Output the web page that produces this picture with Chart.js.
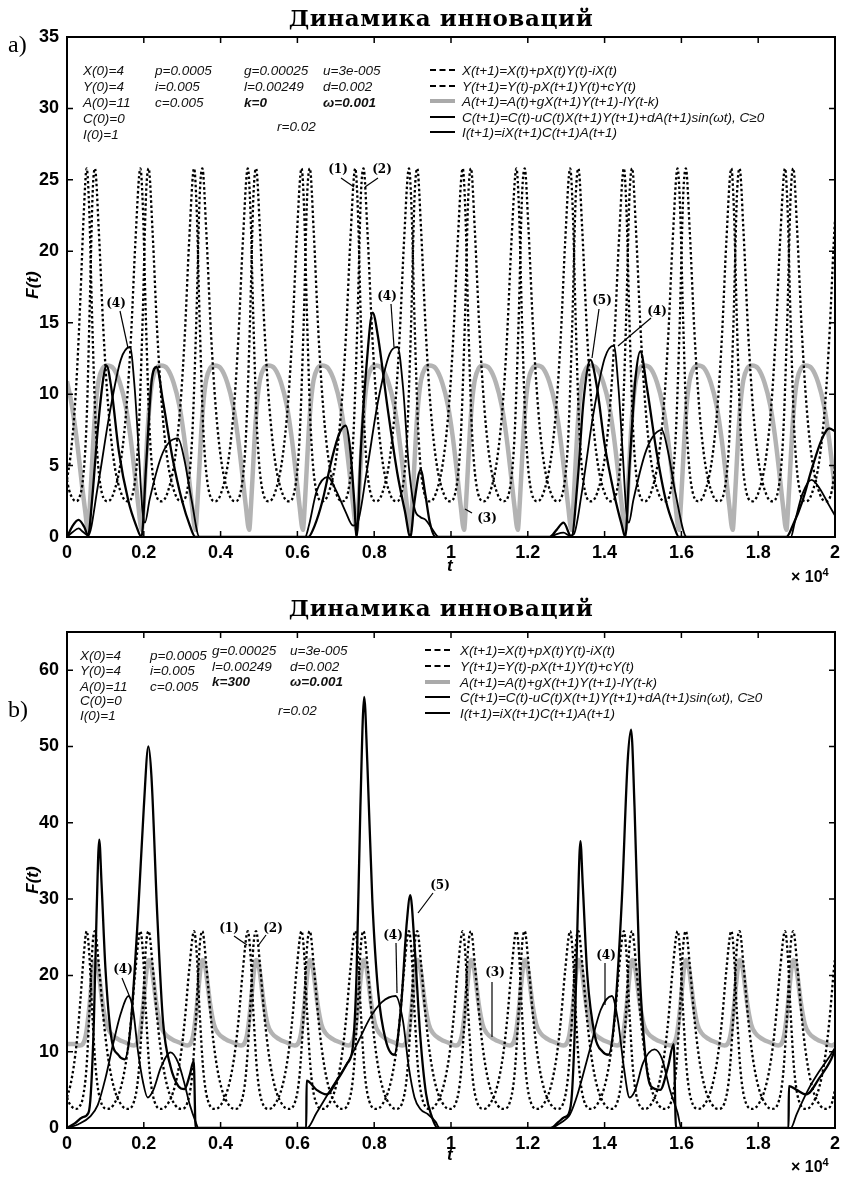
<!DOCTYPE html>
<html><head><meta charset="utf-8">
<script src="https://cdn.jsdelivr.net/npm/chart.js@4.4.1/dist/chart.umd.min.js"></script>
<style>
body{margin:0;background:#fff;}
#wrap{position:relative;width:845px;height:1178px;overflow:hidden;background:#fff;}
canvas{position:absolute;left:0;}
.p{position:absolute;white-space:nowrap;font-family:'Liberation Sans',Arial,sans-serif;font-style:italic;font-size:13.5px;color:#111;line-height:15px;transform:translateY(-50%);}
.b{font-weight:bold;}
.ttl{position:absolute;white-space:nowrap;font-family:'DejaVu Serif',serif;font-weight:bold;font-size:23px;color:#000;transform:translate(-50%,-50%);letter-spacing:0.6px;}
.lab{position:absolute;font-family:'Liberation Serif',serif;font-size:24px;color:#000;transform:translateY(-50%);}
.n{position:absolute;font-family:'DejaVu Serif',serif;font-weight:bold;font-size:12px;color:#000;transform:translate(-50%,-50%);white-space:nowrap;}
.ax{position:absolute;font-family:'Liberation Sans',Arial,sans-serif;font-style:italic;font-weight:bold;font-size:17px;color:#000;white-space:nowrap;}
.ex{position:absolute;font-family:'Liberation Sans',Arial,sans-serif;font-weight:bold;font-size:16px;color:#000;white-space:nowrap;transform:translateY(-50%);}
.ls{position:absolute;width:25px;height:0;}
.dot{border-top:2px dashed #000;}
.gry{border-top:4px solid #aaa;}
.blk{border-top:2.5px solid #000;}
</style></head><body><div id="wrap">
<canvas id="ca" width="845" height="590" style="top:0"></canvas>
<canvas id="cb" width="845" height="588" style="top:590px"></canvas>
<svg id="ov" width="845" height="1178" style="position:absolute;left:0;top:0"></svg>
</div>
<script>
// ---------- shared X, Y (identical in both panels) ----------
const tX = [0,54,145,236,327,418,509,600,668,
727,827,947,1077,1227,1427,1577,1727,1857,1967,2057,
2126,2226,2346,2476,2626,2826,2976,3126,3256,3366,3456,
3525,3625,3745,3875,4025,4225,4375,4525,4655,4765,4855,
4924,5024,5144,5274,5424,5624,5774,5924,6054,6164,6254,
6323,6423,6543,6673,6823,7023,7173,7323,7453,7563,7653,
7722,7822,7942,8072,8222,8422,8572,8722,8852,8962,9052,
9121,9221,9341,9471,9621,9821,9971,10121,10251,10361,10451,
10520,10620,10740,10870,11020,11220,11370,11520,11650,11760,11850,
11919,12019,12139,12269,12419,12619,12769,12919,13049,13159,13249,
13318,13418,13538,13668,13818,14018,14168,14318,14448,14558,14648,
14717,14817,14937,15067,15217,15417,15567,15717,15847,15957,16047,
16116,16216,16336,16466,16616,16816,16966,17116,17246,17356,17446,
17515,17615,17735,17865,18015,18215,18365,18515,18645,18755,18845,
18914,19014,19134,19264,19414,19614,19764,19914,20000];
const X = [4.0,3.3,2.7,2.5,2.8,4.1,8.0,17.0,24.1,
25.8,21.5,14.5,9.0,5.2,2.95,2.5,3.2,6.8,15.0,23.9,
25.8,21.5,14.5,9.0,5.2,2.95,2.5,3.2,6.8,15.0,23.9,
25.8,21.5,14.5,9.0,5.2,2.95,2.5,3.2,6.8,15.0,23.9,
25.8,21.5,14.5,9.0,5.2,2.95,2.5,3.2,6.8,15.0,23.9,
25.8,21.5,14.5,9.0,5.2,2.95,2.5,3.2,6.8,15.0,23.9,
25.8,21.5,14.5,9.0,5.2,2.95,2.5,3.2,6.8,15.0,23.9,
25.8,21.5,14.5,9.0,5.2,2.95,2.5,3.2,6.8,15.0,23.9,
25.8,21.5,14.5,9.0,5.2,2.95,2.5,3.2,6.8,15.0,23.9,
25.8,21.5,14.5,9.0,5.2,2.95,2.5,3.2,6.8,15.0,23.9,
25.8,21.5,14.5,9.0,5.2,2.95,2.5,3.2,6.8,15.0,23.9,
25.8,21.5,14.5,9.0,5.2,2.95,2.5,3.2,6.8,15.0,23.9,
25.8,21.5,14.5,9.0,5.2,2.95,2.5,3.2,6.8,15.0,23.9,
25.8,21.5,14.5,9.0,5.2,2.95,2.5,3.2,6.8,15.0,23.9,
25.8,21.5,14.5,9.0,5.2,2.95,2.5,3.2,5.0];

const tY = [0,88,175,263,350,438,
512,582,652,752,912,1062,1212,1412,1562,1672,1782,
1911,1981,2051,2151,2311,2461,2611,2811,2961,3071,3181,
3310,3380,3450,3550,3710,3860,4010,4210,4360,4470,4580,
4709,4779,4849,4949,5109,5259,5409,5609,5759,5869,5979,
6108,6178,6248,6348,6508,6658,6808,7008,7158,7268,7378,
7507,7577,7647,7747,7907,8057,8207,8407,8557,8667,8777,
8906,8976,9046,9146,9306,9456,9606,9806,9956,10066,10176,
10305,10375,10445,10545,10705,10855,11005,11205,11355,11465,11575,
11704,11774,11844,11944,12104,12254,12404,12604,12754,12864,12974,
13103,13173,13243,13343,13503,13653,13803,14003,14153,14263,14373,
14502,14572,14642,14742,14902,15052,15202,15402,15552,15662,15772,
15901,15971,16041,16141,16301,16451,16601,16801,16951,17061,17171,
17300,17370,17440,17540,17700,17850,18000,18200,18350,18460,18570,
18699,18769,18839,18939,19099,19249,19399,19599,19749,19859,19969,20000];
const Y = [4.0,5.6,8.05,11.7,16.8,22.75,
25.8,22.7,15.6,7.5,3.05,2.5,3.05,5.5,9.5,14.3,20.7,
25.8,22.7,15.6,7.5,3.05,2.5,3.05,5.5,9.5,14.3,20.7,
25.8,22.7,15.6,7.5,3.05,2.5,3.05,5.5,9.5,14.3,20.7,
25.8,22.7,15.6,7.5,3.05,2.5,3.05,5.5,9.5,14.3,20.7,
25.8,22.7,15.6,7.5,3.05,2.5,3.05,5.5,9.5,14.3,20.7,
25.8,22.7,15.6,7.5,3.05,2.5,3.05,5.5,9.5,14.3,20.7,
25.8,22.7,15.6,7.5,3.05,2.5,3.05,5.5,9.5,14.3,20.7,
25.8,22.7,15.6,7.5,3.05,2.5,3.05,5.5,9.5,14.3,20.7,
25.8,22.7,15.6,7.5,3.05,2.5,3.05,5.5,9.5,14.3,20.7,
25.8,22.7,15.6,7.5,3.05,2.5,3.05,5.5,9.5,14.3,20.7,
25.8,22.7,15.6,7.5,3.05,2.5,3.05,5.5,9.5,14.3,20.7,
25.8,22.7,15.6,7.5,3.05,2.5,3.05,5.5,9.5,14.3,20.7,
25.8,22.7,15.6,7.5,3.05,2.5,3.05,5.5,9.5,14.3,20.7,
25.8,22.7,15.6,7.5,3.05,2.5,3.05,5.5,9.5,14.3,20.7,22.2];

// ---------- panel a (k = 0) ----------
const tAa = [0,100,200,300,400,470,
547,597,647,697,757,827,927,1047,1207,1377,1527,1647,1767,1857,
1946,1996,2046,2096,2156,2226,2326,2446,2606,2776,2926,3046,3166,3256,
3345,3395,3445,3495,3555,3625,3725,3845,4005,4175,4325,4445,4565,4655,
4744,4794,4844,4894,4954,5024,5124,5244,5404,5574,5724,5844,5964,6054,
6143,6193,6243,6293,6353,6423,6523,6643,6803,6973,7123,7243,7363,7453,
7542,7592,7642,7692,7752,7822,7922,8042,8202,8372,8522,8642,8762,8852,
8941,8991,9041,9091,9151,9221,9321,9441,9601,9771,9921,10041,10161,10251,
10340,10390,10440,10490,10550,10620,10720,10840,11000,11170,11320,11440,11560,11650,
11739,11789,11839,11889,11949,12019,12119,12239,12399,12569,12719,12839,12959,13049,
13138,13188,13238,13288,13348,13418,13518,13638,13798,13968,14118,14238,14358,14448,
14537,14587,14637,14687,14747,14817,14917,15037,15197,15367,15517,15637,15757,15847,
15936,15986,16036,16086,16146,16216,16316,16436,16596,16766,16916,17036,17156,17246,
17335,17385,17435,17485,17545,17615,17715,17835,17995,18165,18315,18435,18555,18645,
18734,18784,18834,18884,18944,19014,19114,19234,19394,19564,19714,19834,19954,20000];
const Aa = [10.9,9.6,7.9,5.8,3.4,1.9,
0.5,2.3,4.8,7.3,9.5,11.0,11.8,12.0,11.8,10.8,9.2,7.1,4.4,2.2,
0.5,2.3,4.8,7.3,9.5,11.0,11.8,12.0,11.8,10.8,9.2,7.1,4.4,2.2,
0.5,2.3,4.8,7.3,9.5,11.0,11.8,12.0,11.8,10.8,9.2,7.1,4.4,2.2,
0.5,2.3,4.8,7.3,9.5,11.0,11.8,12.0,11.8,10.8,9.2,7.1,4.4,2.2,
0.5,2.3,4.8,7.3,9.5,11.0,11.8,12.0,11.8,10.8,9.2,7.1,4.4,2.2,
0.5,2.3,4.8,7.3,9.5,11.0,11.8,12.0,11.8,10.8,9.2,7.1,4.4,2.2,
0.5,2.3,4.8,7.3,9.5,11.0,11.8,12.0,11.8,10.8,9.2,7.1,4.4,2.2,
0.5,2.3,4.8,7.3,9.5,11.0,11.8,12.0,11.8,10.8,9.2,7.1,4.4,2.2,
0.5,2.3,4.8,7.3,9.5,11.0,11.8,12.0,11.8,10.8,9.2,7.1,4.4,2.2,
0.5,2.3,4.8,7.3,9.5,11.0,11.8,12.0,11.8,10.8,9.2,7.1,4.4,2.2,
0.5,2.3,4.8,7.3,9.5,11.0,11.8,12.0,11.8,10.8,9.2,7.1,4.4,2.2,
0.5,2.3,4.8,7.3,9.5,11.0,11.8,12.0,11.8,10.8,9.2,7.1,4.4,2.2,
0.5,2.3,4.8,7.3,9.5,11.0,11.8,12.0,11.8,10.8,9.2,7.1,4.4,2.2,
0.5,2.3,4.8,7.3,9.5,11.0,11.8,12.0,11.8,10.8,9.2,7.1,4.4,3.3];

const tCa = [0,150,300,420,550,800,1100,1400,1640,1760,1880,1960,2030,2150,2450,2650,2890,3050,3250,3450,
6200,6300,6500,6790,7000,7250,7450,7550,7800,8100,8400,8610,8750,8900,9050,9200,9340,9500,9690,
12566,12750,12930,13100,13200,13400,13700,14000,14240,14360,14480,14560,14630,14750,15050,15250,15490,15650,15850,16140,
18850,18950,19150,19390,19600,19850,20000];
const Ca = [0,0.35,0.6,0.35,0.1,3.5,8.5,12.4,13.3,10.5,5.5,2.0,1.0,2.6,5.6,6.6,6.9,5.5,2.5,0,
0,0.8,3.2,4.2,3.3,1.8,0.8,0.9,4.5,9.5,12.8,13.3,10.5,5.0,2.0,1.4,1.2,0.6,0,
0,0.2,0.3,0.1,0.2,3.0,8.5,12.5,13.4,10.5,5.5,2.0,1.0,2.6,5.8,7.0,7.5,6.0,3.0,0,
0,1.0,3.0,4.0,3.4,2.2,1.5];

const tIa = [0,150,300,450,550,650,800,950,1030,1150,1350,1600,1800,1940,2060,2200,2330,2500,2750,3000,3200,3345,
6280,6450,6650,6900,7100,7260,7380,7480,7542,7650,7800,7960,8100,8350,8600,8800,8941,9050,9210,9330,9450,9600,
12566,12750,12930,13138,13300,13450,13630,13800,14000,14250,14450,14537,14650,14800,14930,15100,15350,15600,15800,15936,
18734,18900,19150,19400,19650,19850,20000];
const Ia = [0,0.8,1.2,0.7,0.1,2.5,7.5,11.2,12.0,10.5,6.0,2.5,0.8,0,5.0,10.8,11.9,9.5,5.5,2.5,0.8,0,
0,0.8,2.5,5.5,7.3,7.8,6.0,2.5,0,6.0,12.0,15.7,14.0,9.0,4.5,1.8,0,2.5,4.7,3.0,1.0,0,
0,0.5,1.0,0,4.0,9.5,12.4,10.5,6.5,3.0,0.8,0,5.0,11.0,13.0,10.5,6.0,2.5,0.8,0,
0,0.8,2.5,4.8,6.8,7.6,7.4];

// ---------- panel b (k = 300) ----------
const tAb = [0,200,
337,487,587,637,687,727,777,827,877,927,1027,1127,1327,1527,
1736,1886,1986,2036,2086,2126,2176,2226,2276,2326,2426,2526,2726,2926,
3135,3285,3385,3435,3485,3525,3575,3625,3675,3725,3825,3925,4125,4325,
4534,4684,4784,4834,4884,4924,4974,5024,5074,5124,5224,5324,5524,5724,
5933,6083,6183,6233,6283,6323,6373,6423,6473,6523,6623,6723,6923,7123,
7332,7482,7582,7632,7682,7722,7772,7822,7872,7922,8022,8122,8322,8522,
8731,8881,8981,9031,9081,9121,9171,9221,9271,9321,9421,9521,9721,9921,
10130,10280,10380,10430,10480,10520,10570,10620,10670,10720,10820,10920,11120,11320,
11529,11679,11779,11829,11879,11919,11969,12019,12069,12119,12219,12319,12519,12719,
12928,13078,13178,13228,13278,13318,13368,13418,13468,13518,13618,13718,13918,14118,
14327,14477,14577,14627,14677,14717,14767,14817,14867,14917,15017,15117,15317,15517,
15726,15876,15976,16026,16076,16116,16166,16216,16266,16316,16416,16516,16716,16916,
17125,17275,17375,17425,17475,17515,17565,17615,17665,17715,17815,17915,18115,18315,
18524,18674,18774,18824,18874,18914,18964,19014,19064,19114,19214,19314,19514,19714,19923,20000];
const Ab = [11.0,11.0,
10.8,12.1,16.1,18.9,21.2,22.0,21.7,20.3,18.3,16.3,13.6,12.5,11.65,11.2,
10.8,12.1,16.1,18.9,21.2,22.0,21.7,20.3,18.3,16.3,13.6,12.5,11.65,11.2,
10.8,12.1,16.1,18.9,21.2,22.0,21.7,20.3,18.3,16.3,13.6,12.5,11.65,11.2,
10.8,12.1,16.1,18.9,21.2,22.0,21.7,20.3,18.3,16.3,13.6,12.5,11.65,11.2,
10.8,12.1,16.1,18.9,21.2,22.0,21.7,20.3,18.3,16.3,13.6,12.5,11.65,11.2,
10.8,12.1,16.1,18.9,21.2,22.0,21.7,20.3,18.3,16.3,13.6,12.5,11.65,11.2,
10.8,12.1,16.1,18.9,21.2,22.0,21.7,20.3,18.3,16.3,13.6,12.5,11.65,11.2,
10.8,12.1,16.1,18.9,21.2,22.0,21.7,20.3,18.3,16.3,13.6,12.5,11.65,11.2,
10.8,12.1,16.1,18.9,21.2,22.0,21.7,20.3,18.3,16.3,13.6,12.5,11.65,11.2,
10.8,12.1,16.1,18.9,21.2,22.0,21.7,20.3,18.3,16.3,13.6,12.5,11.65,11.2,
10.8,12.1,16.1,18.9,21.2,22.0,21.7,20.3,18.3,16.3,13.6,12.5,11.65,11.2,
10.8,12.1,16.1,18.9,21.2,22.0,21.7,20.3,18.3,16.3,13.6,12.5,11.65,11.2,
10.8,12.1,16.1,18.9,21.2,22.0,21.7,20.3,18.3,16.3,13.6,12.5,11.65,11.2,
10.8,12.1,16.1,18.9,21.2,22.0,21.7,20.3,18.3,16.3,13.6,12.5,11.65,11.2,10.8,11.0];

const tCb = [0,300,600,800,1000,1200,1400,1600,1720,1850,1980,2100,2250,2450,2700,2900,3050,3200,3350,3420,
6250,6500,6800,7050,7300,7600,7900,8200,8560,8750,8900,9050,9200,9400,9600,9700,
12600,12800,13000,13100,13300,13600,13900,14190,14350,14500,14650,14800,15000,15300,15500,15700,15900,16000,
18850,19000,19300,19600,19850,20000];
const Cb = [0,0.5,1.5,3.0,6.5,11,15,17.3,15.5,10,6,4.0,5.0,8.0,9.9,8.5,6,3,0.8,0,
0,2.0,4.5,6.5,8.5,11.5,14.5,16.5,17.3,14,8,4.0,2.5,1.8,0.8,0,
0,0.5,1.2,1.8,4.5,10,15.5,17.3,14,8,4.0,5.0,8.5,10.3,9,5,2,0,
0,1.8,5.0,7.5,9.3,10.5];

const tIb = [0,200,400,560,620,700,770,840,900,1000,1150,1350,1500,1650,1850,2000,2120,2200,2350,2500,2700,2900,3060,3200,3300,3350,
6230,6240,6500,6750,7080,7300,7440,7540,7640,7740,7820,7950,8100,8300,8520,8700,8850,8940,9050,9200,9350,9500,9650,
12600,12800,12950,13060,13150,13230,13300,13370,13430,13550,13750,13950,14100,14250,14450,14600,14690,14780,14900,15050,15200,15450,15650,15800,15860,
18790,18800,19000,19250,19600,19900,20000];
const Ib = [0,0.6,1.4,2.0,4.5,14,28,37.8,32,21,12,9.5,9.0,13,28,42,50,46,28,14,8,5.5,5.1,7,8.8,0,
0,6.2,5.0,4.4,6.6,8.5,10.5,20,42,56.5,48,30,18,11.5,9.6,16,27,30.5,24,12,4.5,1.5,0,
0,0.8,1.4,1.8,4.5,14,28,37.6,32,20,12,10,9.6,14,30,48,52.2,42,22,10,5.5,5.0,8,11,0,
0,5.5,5.0,4.4,6.6,9.0,10.3];

// ---------- axes ----------
const xTickVals = [0,2000,4000,6000,8000,10000,12000,14000,16000,18000,20000];
const xTickLabels = ['0','0.2','0.4','0.6','0.8','1','1.2','1.4','1.6','1.8','2'];
const yTicksA = [0,5,10,15,20,25,30,35];
const yTicksB = [0,10,20,30,40,50,60];

const pts = (ts, vs) => ts.map((t, i) => ({x: t, y: vs[i]}));

const framePlugin = {
  id: 'frame',
  afterDraw(chart) {
    const {ctx, chartArea: {left, right, top, bottom}, scales: {x, y}} = chart;
    ctx.save();
    ctx.strokeStyle = '#000';
    ctx.lineWidth = 2;
    ctx.strokeRect(left, top, right - left, bottom - top);
    ctx.lineWidth = 1.5;
    ctx.beginPath();
    x.ticks.forEach(t => {
      const px = x.getPixelForValue(t.value);
      ctx.moveTo(px, bottom); ctx.lineTo(px, bottom - 6);
      ctx.moveTo(px, top); ctx.lineTo(px, top + 6);
    });
    y.ticks.forEach(t => {
      const py = y.getPixelForValue(t.value);
      ctx.moveTo(left, py); ctx.lineTo(left + 6, py);
      ctx.moveTo(right, py); ctx.lineTo(right - 6, py);
    });
    ctx.stroke();
    ctx.restore();
  }
};

const tickFont = {family: "'Liberation Sans', Arial, sans-serif", weight: 'bold', size: 18};

function makeChart(id, A, tA, C, tC, I, tI, ymax, yTicks, padTop, padBottom) {
  const common = {pointRadius: 0, fill: false, cubicInterpolationMode: 'monotone', borderJoinStyle: 'round'};
  return new Chart(document.getElementById(id), {
    type: 'line',
    data: {
      datasets: [
        Object.assign({label: 'I', data: pts(tI, I), borderColor: '#000', borderWidth: 2.3, order: 0}, common),
        Object.assign({label: 'C', data: pts(tC, C), borderColor: '#000', borderWidth: 1.8, order: 1}, common),
        Object.assign({label: 'X', data: pts(tX, X), borderColor: '#000', borderWidth: 2.3, borderDash: [2.5, 2.5], order: 2}, common),
        Object.assign({label: 'Y', data: pts(tY, Y), borderColor: '#000', borderWidth: 2.3, borderDash: [2.5, 2.5], order: 3}, common),
        Object.assign({label: 'A', data: pts(tA, A), borderColor: 'rgba(160,160,160,0.8)', borderWidth: 4.5, order: 4}, common)
      ]
    },
    options: {
      responsive: false, animation: false, events: [],
      layout: {padding: {top: padTop, right: 8, bottom: padBottom, left: 0}},
      plugins: {legend: {display: false}, tooltip: {enabled: false}},
      scales: {
        x: {
          type: 'linear', min: 0, max: 20000,
          afterBuildTicks: s => { s.ticks = xTickVals.map(v => ({value: v})); },
          afterFit: s => { s.height = 40; },
          grid: {display: false, drawTicks: false}, border: {display: false},
          ticks: {callback: (v, i) => xTickLabels[i], font: tickFont, color: '#000', padding: 5, maxRotation: 0, autoSkip: false}
        },
        y: {
          min: 0, max: ymax,
          afterBuildTicks: s => { s.ticks = yTicks.map(v => ({value: v})); },
          afterFit: s => { s.width = 67; },
          grid: {display: false, drawTicks: false}, border: {display: false},
          ticks: {font: tickFont, color: '#000', padding: 8, autoSkip: false}
        }
      }
    },
    plugins: [framePlugin]
  });
}

makeChart('ca', Aa, tAa, Ca, tCa, Ia, tIa, 35, yTicksA, 37, 13);
makeChart('cb', Ab, tAb, Cb, tCb, Ib, tIb, 65, yTicksB, 42, 10);

// ---------- text overlays ----------
const wrap = document.getElementById('wrap');
function addDiv(cls, html, x, y, extra) {
  const d = document.createElement('div');
  d.className = cls; d.innerHTML = html;
  d.style.left = x + 'px'; d.style.top = y + 'px';
  if (extra) Object.assign(d.style, extra);
  wrap.appendChild(d);
  return d;
}
// titles
addDiv('ttl', 'Динамика инноваций', 441, 17);
addDiv('ttl', 'Динамика инноваций', 441, 607);
addDiv('lab', 'a)', 8, 44);
addDiv('lab', 'b)', 8, 709);
// axis labels
addDiv('ax', 'F(t)', 33, 285, {transform: 'translate(-50%,-50%) rotate(-90deg)'});
addDiv('ax', 'F(t)', 33, 880, {transform: 'translate(-50%,-50%) rotate(-90deg)'});
addDiv('ax', 't', 447, 556);
addDiv('ax', 't', 447, 1145);
addDiv('ex', '× 10<sup style="font-size:11px">4</sup>', 791, 576);
addDiv('ex', '× 10<sup style="font-size:11px">4</sup>', 791, 1166);

// parameters panel a
const colA = [83, 155, 244, 323];
const rowA = [70, 86, 102, 118, 134];
[['X(0)=4','Y(0)=4','A(0)=11','C(0)=0','I(0)=1'],
 ['p=0.0005','i=0.005','c=0.005'],
 ['g=0.00025','l=0.00249','<b>k=0</b>'],
 ['u=3e-005','d=0.002','<b>ω=0.001</b>']].forEach((col, ci) => {
  col.forEach((s, ri) => addDiv('p', s, colA[ci], rowA[ri]));
});
addDiv('p', 'r=0.02', 277, 126);
// parameters panel b
const colB = [80, 150, 212, 290];
const rowB1 = [655, 670, 686, 700, 715];
const rowB2 = [650, 666, 681];
['X(0)=4','Y(0)=4','A(0)=11','C(0)=0','I(0)=1'].forEach((s, i) => addDiv('p', s, colB[0], rowB1[i]));
['p=0.0005','i=0.005','c=0.005'].forEach((s, i) => addDiv('p', s, colB[1], rowB1[i]));
['g=0.00025','l=0.00249','<b>k=300</b>'].forEach((s, i) => addDiv('p', s, colB[2], rowB2[i]));
['u=3e-005','d=0.002','<b>ω=0.001</b>'].forEach((s, i) => addDiv('p', s, colB[3], rowB2[i]));
addDiv('p', 'r=0.02', 278, 710);

// legends
const legTexts = ['X(t+1)=X(t)+pX(t)Y(t)-iX(t)', 'Y(t+1)=Y(t)-pX(t+1)Y(t)+cY(t)', 'A(t+1)=A(t)+gX(t+1)Y(t+1)-lY(t-k)',
  'C(t+1)=C(t)-uC(t)X(t+1)Y(t+1)+dA(t+1)sin(ωt), C≥0', 'I(t+1)=iX(t+1)C(t+1)A(t+1)'];
const legStyles = ['dot', 'dot', 'gry', 'blk', 'blk'];
function legend(x0, tx, rows) {
  rows.forEach((y, i) => {
    const s = document.createElement('div');
    s.className = 'ls ' + legStyles[i];
    s.style.left = x0 + 'px';
    s.style.top = (y - (legStyles[i] === 'gry' ? 2 : 1)) + 'px';
    wrap.appendChild(s);
    addDiv('p', legTexts[i], tx, y);
  });
}
legend(430, 462, [70, 86, 101, 117, 132]);
legend(425, 460, [650, 666, 682, 697, 713]);

// curve numbers and leaders
const marks = [
  ['(1)', 338, 169, 341, 178, 354, 187], ['(2)', 382, 169, 378, 178, 365, 187],
  ['(4)', 116, 303, 120, 311, 128, 348], ['(4)', 387, 296, 391, 304, 394, 347],
  ['(5)', 602, 300, 599, 309, 592, 358], ['(4)', 657, 311, 651, 318, 618, 346],
  ['(3)', 487, 518, 472, 513, 465, 509],
  ['(4)', 123, 969, 122, 978, 131, 1000], ['(1)', 229, 928, 234, 936, 247, 945],
  ['(2)', 273, 928, 266, 935, 258, 946], ['(4)', 393, 935, 396, 943, 397, 993],
  ['(5)', 440, 885, 433, 893, 418, 913], ['(3)', 495, 972, 492, 982, 492, 1037],
  ['(4)', 606, 955, 605, 963, 605, 1005]
];
const ov = document.getElementById('ov');
marks.forEach(m => {
  addDiv('n', m[0], m[1], m[2]);
  const l = document.createElementNS('http://www.w3.org/2000/svg', 'line');
  l.setAttribute('x1', m[3]); l.setAttribute('y1', m[4]);
  l.setAttribute('x2', m[5]); l.setAttribute('y2', m[6]);
  l.setAttribute('stroke', '#000'); l.setAttribute('stroke-width', '1.2');
  ov.appendChild(l);
});
</script>
</body></html>
